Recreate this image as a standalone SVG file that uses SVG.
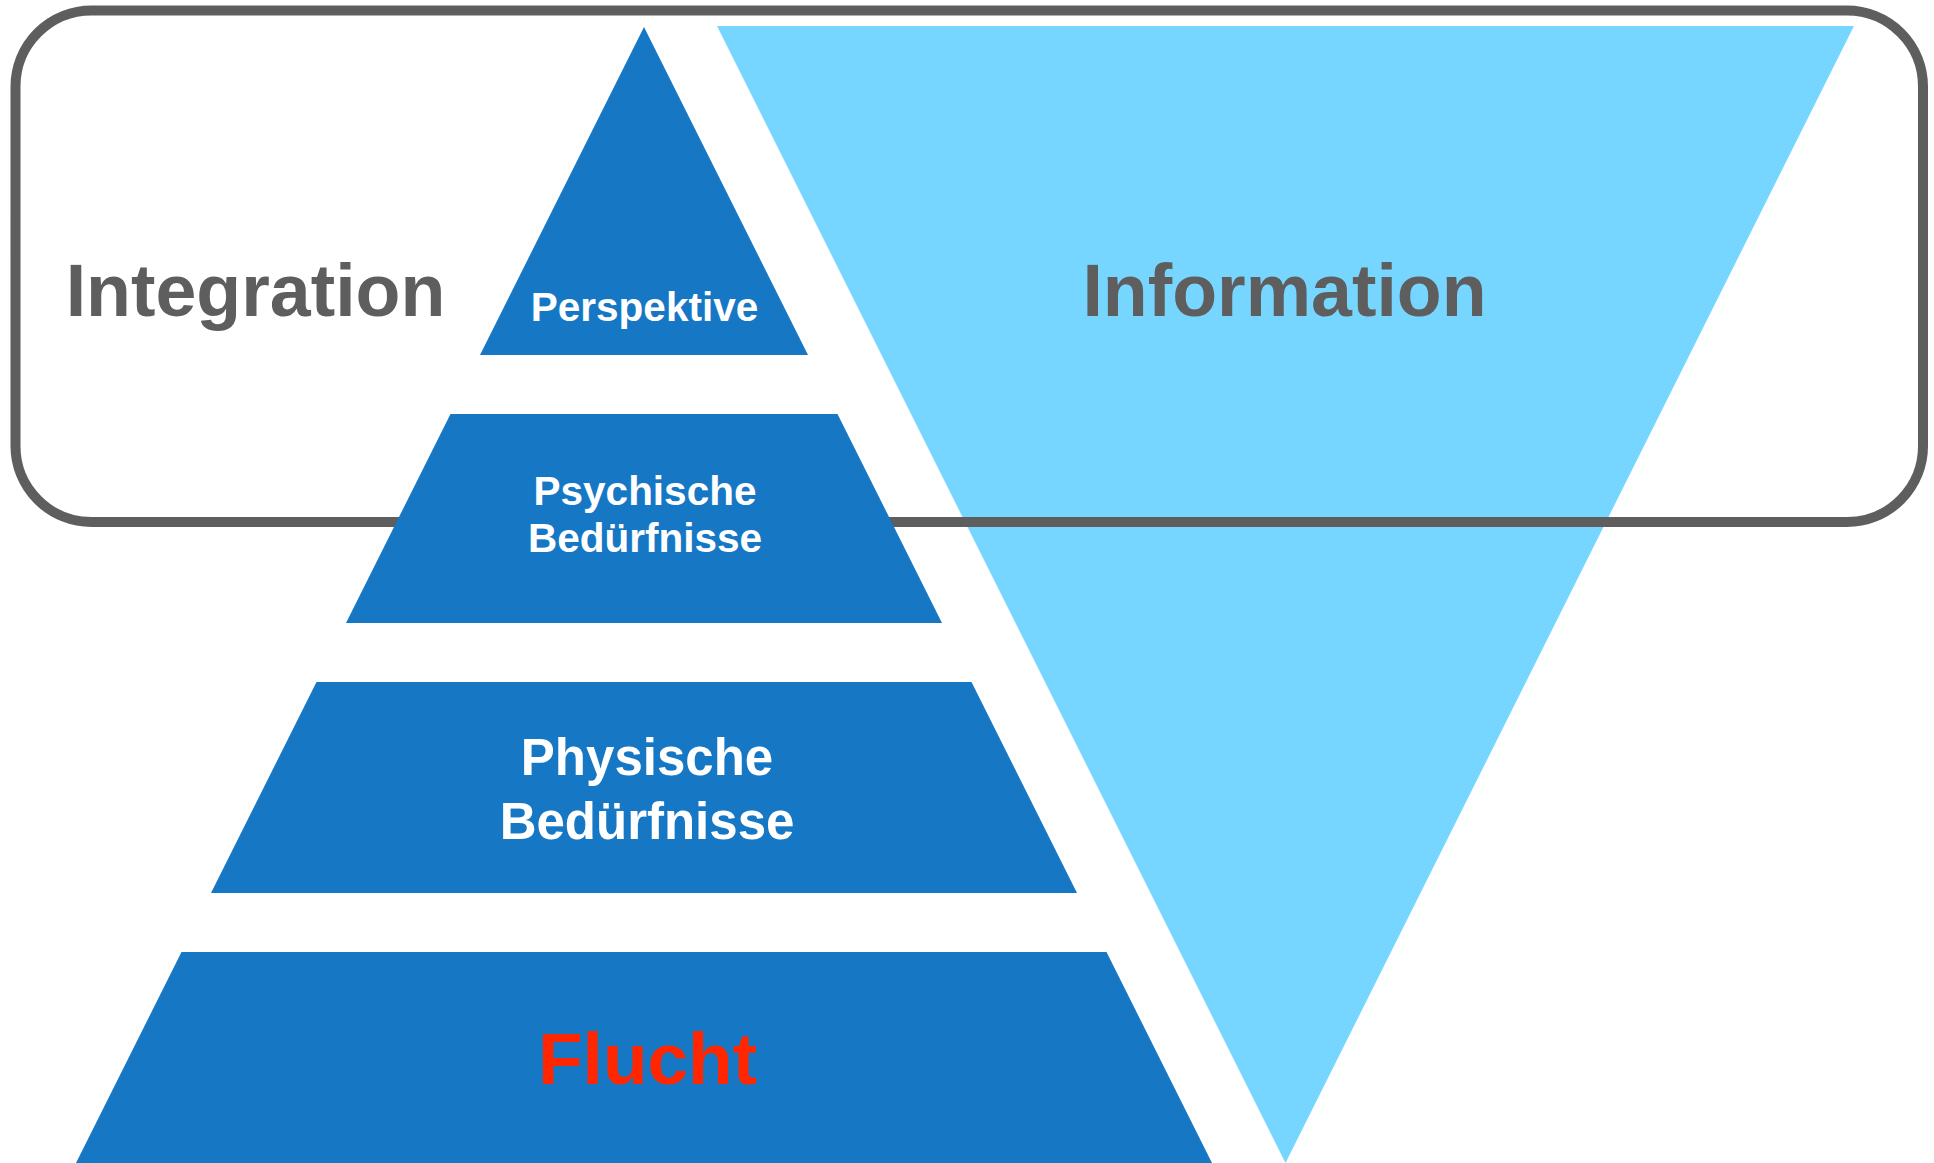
<svg xmlns="http://www.w3.org/2000/svg" width="1934" height="1163" viewBox="0 0 1934 1163">
<style>
.lvl{fill:#1677C5}
.info{fill:#76D6FF}
.frame{fill:none;stroke:#5E5E5E;stroke-width:10}
text{font-family:"Liberation Sans",Arial,Helvetica,sans-serif;font-weight:bold;text-anchor:middle}
.big{font-size:73.5px;fill:#5E5E5E}
.w{fill:#FFFFFF}
.red{fill:#FF2600;font-size:73px}
</style>
<rect width="1934" height="1163" fill="#FFFFFF"/>
<g id="information">
<polygon class="info" points="717,26 1854,26 1285.5,1163"/>
<text class="big" x="1284.5" y="316">Information</text>
</g>
<g id="integration">
<rect class="frame" x="15.5" y="10.5" width="1907.5" height="511.5" rx="76" ry="76"/>
<text class="big" x="255.5" y="316">Integration</text>
</g>
<g id="perspektive">
<polygon class="lvl" points="644,27 808,355 480,355"/>
<text class="w" x="644.5" y="321" font-size="40.5">Perspektive</text>
</g>
<g id="psychische">
<polygon class="lvl" points="450.5,414 837.5,414 942,623 346,623"/>
<text class="w" x="645" y="505" font-size="40.5">Psychische</text>
<text class="w" x="645" y="551.5" font-size="40.5">Bedürfnisse</text>
</g>
<g id="physische">
<polygon class="lvl" points="316.5,682 971.5,682 1077,893 211,893"/>
<text class="w" x="647" y="774.5" font-size="51">Physische</text>
<text class="w" x="647" y="839" font-size="51">Bedürfnisse</text>
</g>
<g id="flucht">
<polygon class="lvl" points="181.5,952 1106.5,952 1212,1163 76,1163"/>
<text class="red" x="647.5" y="1084">Flucht</text>
</g>
<g id="connectors"></g>
</svg>
